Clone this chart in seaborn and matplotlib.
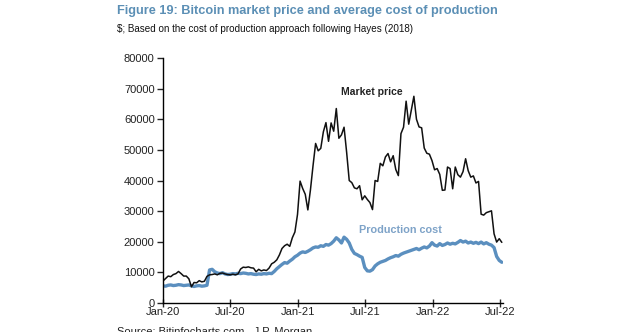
import matplotlib
matplotlib.use("Agg")
import matplotlib.pyplot as plt
import seaborn as sns
import pandas as pd

# ---- data (weekly, from 2020-01-01) ----
start_date = "2020-01-01"
market_price = [
    7200, 8000, 8800, 8600, 9300, 9600, 10300, 9600, 8800, 8800, 7900, 5300, 6700,
    6600, 7300, 6900, 7100, 8700, 9200, 9300, 9500, 9200, 9700, 9800, 9500, 9300,
    9200, 9400, 9200, 9500, 11100, 11700, 11600, 11800, 11500, 11400, 10200, 11000,
    10500, 10800, 10600, 11400, 12800, 13300, 14100, 15700, 17800, 18700, 19200,
    18500, 21300, 23200, 28900,
    39800, 37400, 35500, 30400, 36900, 44800, 52100, 49700, 50500, 55900, 58900,
    52800, 58800, 56100, 63500, 53800, 54900, 57400, 49200, 40000, 39300, 37600,
    37300, 38300, 33700, 35000, 33800, 32800, 30500, 40000, 39700, 45600, 44800,
    47700, 48800, 46100, 48100, 43600, 41600, 55300, 57400, 65900, 58400, 62900,
    67500, 60000, 57500, 57200, 50600, 48900, 48600, 46500,
    43500, 43900, 42000, 36800, 36900, 44400, 43900, 37300, 44400, 41900, 41100,
    42900, 47100, 43200, 41100, 41500, 39200, 39700, 29000, 28700, 29500, 29800,
    30100, 22600, 19900, 21000, 19800,
]
production_cost = [
    5600, 5500, 5800, 5900, 5700, 5800, 6000, 5900, 5700, 5800, 5900, 5600, 5400,
    5600, 5700, 5500, 5600, 5800,
    10800, 11000, 10200, 9800, 9600, 9900, 9500, 9300, 9400, 9600, 9500, 9700,
    9600, 9800, 9700, 9500, 9600, 9400, 9300, 9500, 9400, 9600, 9500, 9700, 9600,
    10300, 11200, 11900, 12600, 13200, 13000, 13700, 14300, 15100, 15600, 16300,
    16700, 16500, 16900, 17400, 18000, 18300, 18200, 18700, 18500, 19100, 18900,
    19400, 20200, 21300, 20600, 19600, 21500, 20800, 19600, 17500, 16200, 15800,
    15300, 14900, 11600, 10500, 10400, 10900, 12100, 12800, 13300, 13600, 13900,
    14400, 14800, 15100, 15500, 15300, 15900, 16300, 16600, 16900, 17200, 17500,
    17800, 17400, 17900, 18300, 18000, 18600, 19700, 18900, 18600, 19400, 18800,
    19100, 19600, 19200, 19500, 19300, 19800, 20400, 19900, 20200, 19600, 19900,
    19500, 19800, 19400, 19900, 19300, 19700, 19200, 18900, 18100, 15200, 13900,
    13300,
]
tick_dates = ["2020-01-01", "2020-07-01", "2021-01-01", "2021-07-01", "2022-01-01", "2022-07-01"]
tick_labels = ["Jan-20", "Jul-20", "Jan-21", "Jul-21", "Jan-22", "Jul-22"]
y_ticks = [0, 10000, 20000, 30000, 40000, 50000, 60000, 70000, 80000]

dates_mp = pd.date_range(start_date, periods=len(market_price), freq="7D")
dates_pc = pd.date_range(start_date, periods=len(production_cost), freq="7D")

sns.set_style("white")
plt.rcParams["font.family"] = ["Liberation Sans", "DejaVu Sans"]

fig = plt.figure(figsize=(6.4, 3.32), dpi=100)
ax = fig.add_axes([0.2547, 0.0873, 0.5317, 0.738])

sns.lineplot(x=dates_pc, y=production_cost, ax=ax, color="#5b8fbf", linewidth=2.4)
sns.lineplot(x=dates_mp, y=market_price, ax=ax, color="#111111", linewidth=1.1)

ax.set_xlim(pd.Timestamp("2020-01-01"), pd.Timestamp("2022-07-10"))
ax.set_ylim(0, 80000)
ax.set_yticks(y_ticks)
ax.set_yticklabels([str(v) for v in y_ticks])
ax.set_xticks([pd.Timestamp(d) for d in tick_dates])
ax.set_xticklabels(tick_labels)
ax.set_xlabel("")
ax.set_ylabel("")

for s in ["top", "right"]:
    ax.spines[s].set_visible(False)
for s in ["left", "bottom"]:
    ax.spines[s].set_color("black")
    ax.spines[s].set_linewidth(1.0)
ax.tick_params(axis="y", direction="out", length=4, width=1, labelsize=8, pad=2, left=True,
               labelcolor="#222222")
ax.tick_params(axis="x", direction="inout", length=6, width=1, labelsize=8, pad=0, bottom=True,
               labelcolor="#222222")

ax.text(pd.Timestamp("2021-07-20"), 69000, "Market price", ha="center", va="center",
        fontsize=7.5, fontweight="bold", color="#222222")
ax.text(pd.Timestamp("2021-10-04"), 23900, "Production cost", ha="center", va="center",
        fontsize=7.8, fontweight="bold", color="#7ea3c8")

fig.text(117 / 640, 1 - 5 / 332, "Figure 19: Bitcoin market price and average cost of production",
         ha="left", va="top", fontsize=9.2, fontweight="bold", color="#5b8fb5")
fig.text(117 / 640, 1 - 24 / 332, "$; Based on the cost of production approach following Hayes (2018)",
         ha="left", va="top", fontsize=7.1, color="#111111")
fig.text(117 / 640, 1 - 327 / 332, "Source: Bitinfocharts.com , J.P. Morgan",
         ha="left", va="top", fontsize=8, color="#222222")

fig.savefig("out.png", dpi=100)
